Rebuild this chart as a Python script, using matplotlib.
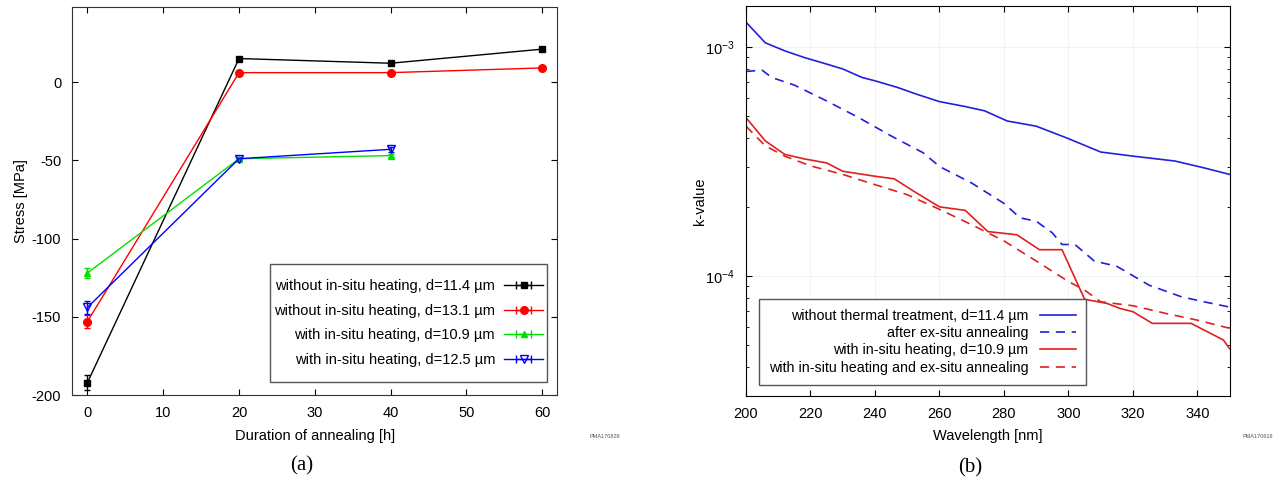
import numpy as np
import matplotlib
matplotlib.use("Agg")
import matplotlib.pyplot as plt
from matplotlib.patches import Rectangle
from matplotlib.ticker import LogLocator, NullFormatter

plt.rcParams['font.family'] = ['Liberation Sans', 'DejaVu Sans']
plt.rcParams['font.size'] = 10.5
plt.rcParams['axes.unicode_minus'] = False

# (a) stress vs annealing duration
hours_long = [0, 20, 40, 60]
hours_short = [0, 20, 40]
stress_black = [-192, 15, 12, 21]
stress_black_err = [5, 1, 1, 1]
stress_red = [-153, 6, 6, 9]
stress_red_err = [4, 1, 1, 1]
stress_green = [-122, -49, -47]
stress_green_err = [3, 1, 1]
stress_blue = [-144, -49, -43]
stress_blue_err = [4, 1, 1.5]
labels_a = ['without in-situ heating, d=11.4 µm',
            'without in-situ heating, d=13.1 µm',
            'with in-situ heating, d=10.9 µm',
            'with in-situ heating, d=12.5 µm']

# (b) k-value vs wavelength
wl_blue = [200, 206, 212, 218, 225, 230, 236, 240, 247, 253, 260, 268, 274,
           281, 290, 300, 310, 320, 333, 342, 350]
k_blue = [1.28e-3, 1.04e-3, 0.96e-3, 0.898e-3, 0.84e-3, 0.80e-3, 0.734e-3,
          0.71e-3, 0.664e-3, 0.62e-3, 0.576e-3, 0.548e-3, 0.525e-3, 0.474e-3,
          0.45e-3, 0.397e-3, 0.347e-3, 0.333e-3, 0.317e-3, 0.296e-3, 0.277e-3]
wl_blue_d = [200, 205, 208, 215, 225, 235, 245, 255, 260, 270, 280, 285, 290,
             295, 298, 302, 308, 315, 325, 335, 342, 350]
k_blue_d = [0.78e-3, 0.79e-3, 0.734e-3, 0.68e-3, 0.58e-3, 0.49e-3, 0.408e-3,
            0.344e-3, 0.30e-3, 0.254e-3, 0.207e-3, 0.179e-3, 0.173e-3, 0.154e-3,
            0.137e-3, 0.137e-3, 0.116e-3, 0.110e-3, 0.091e-3, 0.081e-3,
            0.077e-3, 0.073e-3]
wl_red = [200, 206, 212, 218, 225, 230, 240, 246, 252, 260, 268, 275, 284,
          291, 298, 305, 312, 316, 320, 326, 338, 348, 350]
k_red = [0.49e-3, 0.388e-3, 0.339e-3, 0.324e-3, 0.311e-3, 0.286e-3, 0.272e-3,
         0.265e-3, 0.234e-3, 0.20e-3, 0.193e-3, 0.156e-3, 0.151e-3, 0.13e-3,
         0.13e-3, 0.079e-3, 0.0757e-3, 0.072e-3, 0.0697e-3, 0.062e-3,
         0.062e-3, 0.0525e-3, 0.048e-3]
wl_red_d = [200, 206, 212, 220, 230, 240, 250, 260, 270, 280, 290, 300, 305,
            310, 320, 330, 340, 350]
k_red_d = [0.45e-3, 0.369e-3, 0.333e-3, 0.302e-3, 0.277e-3, 0.25e-3,
           0.226e-3, 0.195e-3, 0.167e-3, 0.142e-3, 0.116e-3, 0.0944e-3,
           0.0866e-3, 0.077e-3, 0.074e-3, 0.0686e-3, 0.064e-3, 0.059e-3]
labels_b = ['without thermal treatment, d=11.4 µm',
            'after ex-situ annealing',
            'with in-situ heating, d=10.9 µm',
            'with in-situ heating and ex-situ annealing']

fig = plt.figure(figsize=(12.73, 4.92), dpi=100)
ax1 = fig.add_axes([0.0568, 0.197, 0.381, 0.789])
ax2 = fig.add_axes([0.586, 0.196, 0.380, 0.791])

# ---- panel (a)
series = [
    (hours_long, stress_black, stress_black_err, 'black', 's', 5),
    (hours_long, stress_red, stress_red_err, 'red', 'o', 5.5),
    (hours_short, stress_green, stress_green_err, '#00e000', '^', 5),
    (hours_short, stress_blue, stress_blue_err, 'blue', 'v', 5.5),
]
handles = []
for (x, y, e, c, m, ms), lab in zip(series, labels_a):
    mfc = 'none' if m == 'v' else c
    ax1.errorbar(x, y, yerr=e, color=c, marker=m, ms=ms, mfc=mfc, lw=1,
                 capsize=2.5, elinewidth=1)
    # legend proxy: horizontal bar with caps like the original
    h = ax1.errorbar([np.nan], [np.nan], xerr=[1], color=c, marker=m, ms=ms,
                     mfc=mfc, lw=1, capsize=3, elinewidth=1, label=lab)
    handles.append(h)

ax1.set_xlim(-2, 62)
ax1.set_ylim(-200, 48)
ax1.set_xticks([0, 10, 20, 30, 40, 50, 60])
ax1.set_yticks([-200, -150, -100, -50, 0])
ax1.set_xlabel('Duration of annealing [h]', labelpad=6)
ax1.set_ylabel('Stress [MPa]', labelpad=3)
ax1.tick_params(direction='in', top=True, right=True, length=4, pad=8)
for s in ax1.spines.values():
    s.set_color('#333333')

# legend box drawn separately (wider vertical than horizontal padding)
ax1.add_patch(Rectangle((0.408, 0.034), 0.571, 0.304, transform=ax1.transAxes,
                        fill=False, edgecolor='#555555', lw=1, zorder=5))
leg1 = ax1.legend(handles=handles, loc='center', markerfirst=False,
                  bbox_to_anchor=(0.6935, 0.186), fontsize=10.5,
                  frameon=False, handlelength=2.7, handletextpad=0.6,
                  borderpad=0.3, labelspacing=0.72, alignment='right')
for t in leg1.get_texts():
    t.set_ha('right')

# ---- panel (b)
dash = (0, (5.5, 4))
ax2.plot(wl_blue, k_blue, color='#2020dd', lw=1.2, label=labels_b[0])
ax2.plot(wl_blue_d, k_blue_d, color='#2020dd', lw=1.2, ls=dash,
         label=labels_b[1])
ax2.plot(wl_red, k_red, color='#e02020', lw=1.2, label=labels_b[2])
ax2.plot(wl_red_d, k_red_d, color='#e02020', lw=1.2, ls=dash,
         label=labels_b[3])
ax2.set_yscale('log')
ax2.set_xlim(200, 350)
ax2.set_ylim(3e-5, 1.5e-3)
ax2.set_xticks(range(200, 341, 20))
ax2.yaxis.set_major_locator(LogLocator(base=10, numticks=5))
ax2.yaxis.set_minor_locator(LogLocator(base=10, subs=np.arange(2, 10), numticks=10))
ax2.yaxis.set_minor_formatter(NullFormatter())
ax2.grid(True, which='major', color='#f2f2f2', lw=0.8)
ax2.set_xlabel('Wavelength [nm]', labelpad=6)
ax2.set_ylabel('k-value', labelpad=-1)
ax2.tick_params(which='both', direction='in', top=True, right=True, pad=8)
ax2.tick_params(which='major', length=4)
ax2.tick_params(which='minor', length=2)
leg2 = ax2.legend(loc='lower left', markerfirst=False, fontsize=10.3,
                  bbox_to_anchor=(0.012, 0.01), fancybox=False,
                  edgecolor='#555555', framealpha=1, handlelength=2.5,
                  borderpad=0.7, labelspacing=0.22, alignment='right')
for t in leg2.get_texts():
    t.set_ha('right')

# captions and figure ids
fig.text(302 / 1273, 1 - 466 / 492, '(a)', family='Liberation Serif',
         fontsize=15, ha='center', va='center')
fig.text(970 / 1273, 1 - 468 / 492, '(b)', family='Liberation Serif',
         fontsize=15, ha='center', va='center')
fig.text(605 / 1273, 1 - 436 / 492, 'PMA170828', fontsize=4, ha='center',
         va='center', color='#555555')
fig.text(1258 / 1273, 1 - 437 / 492, 'PMA170616', fontsize=4, ha='center',
         va='center', color='#555555')

fig.savefig('out.png', dpi=100)
